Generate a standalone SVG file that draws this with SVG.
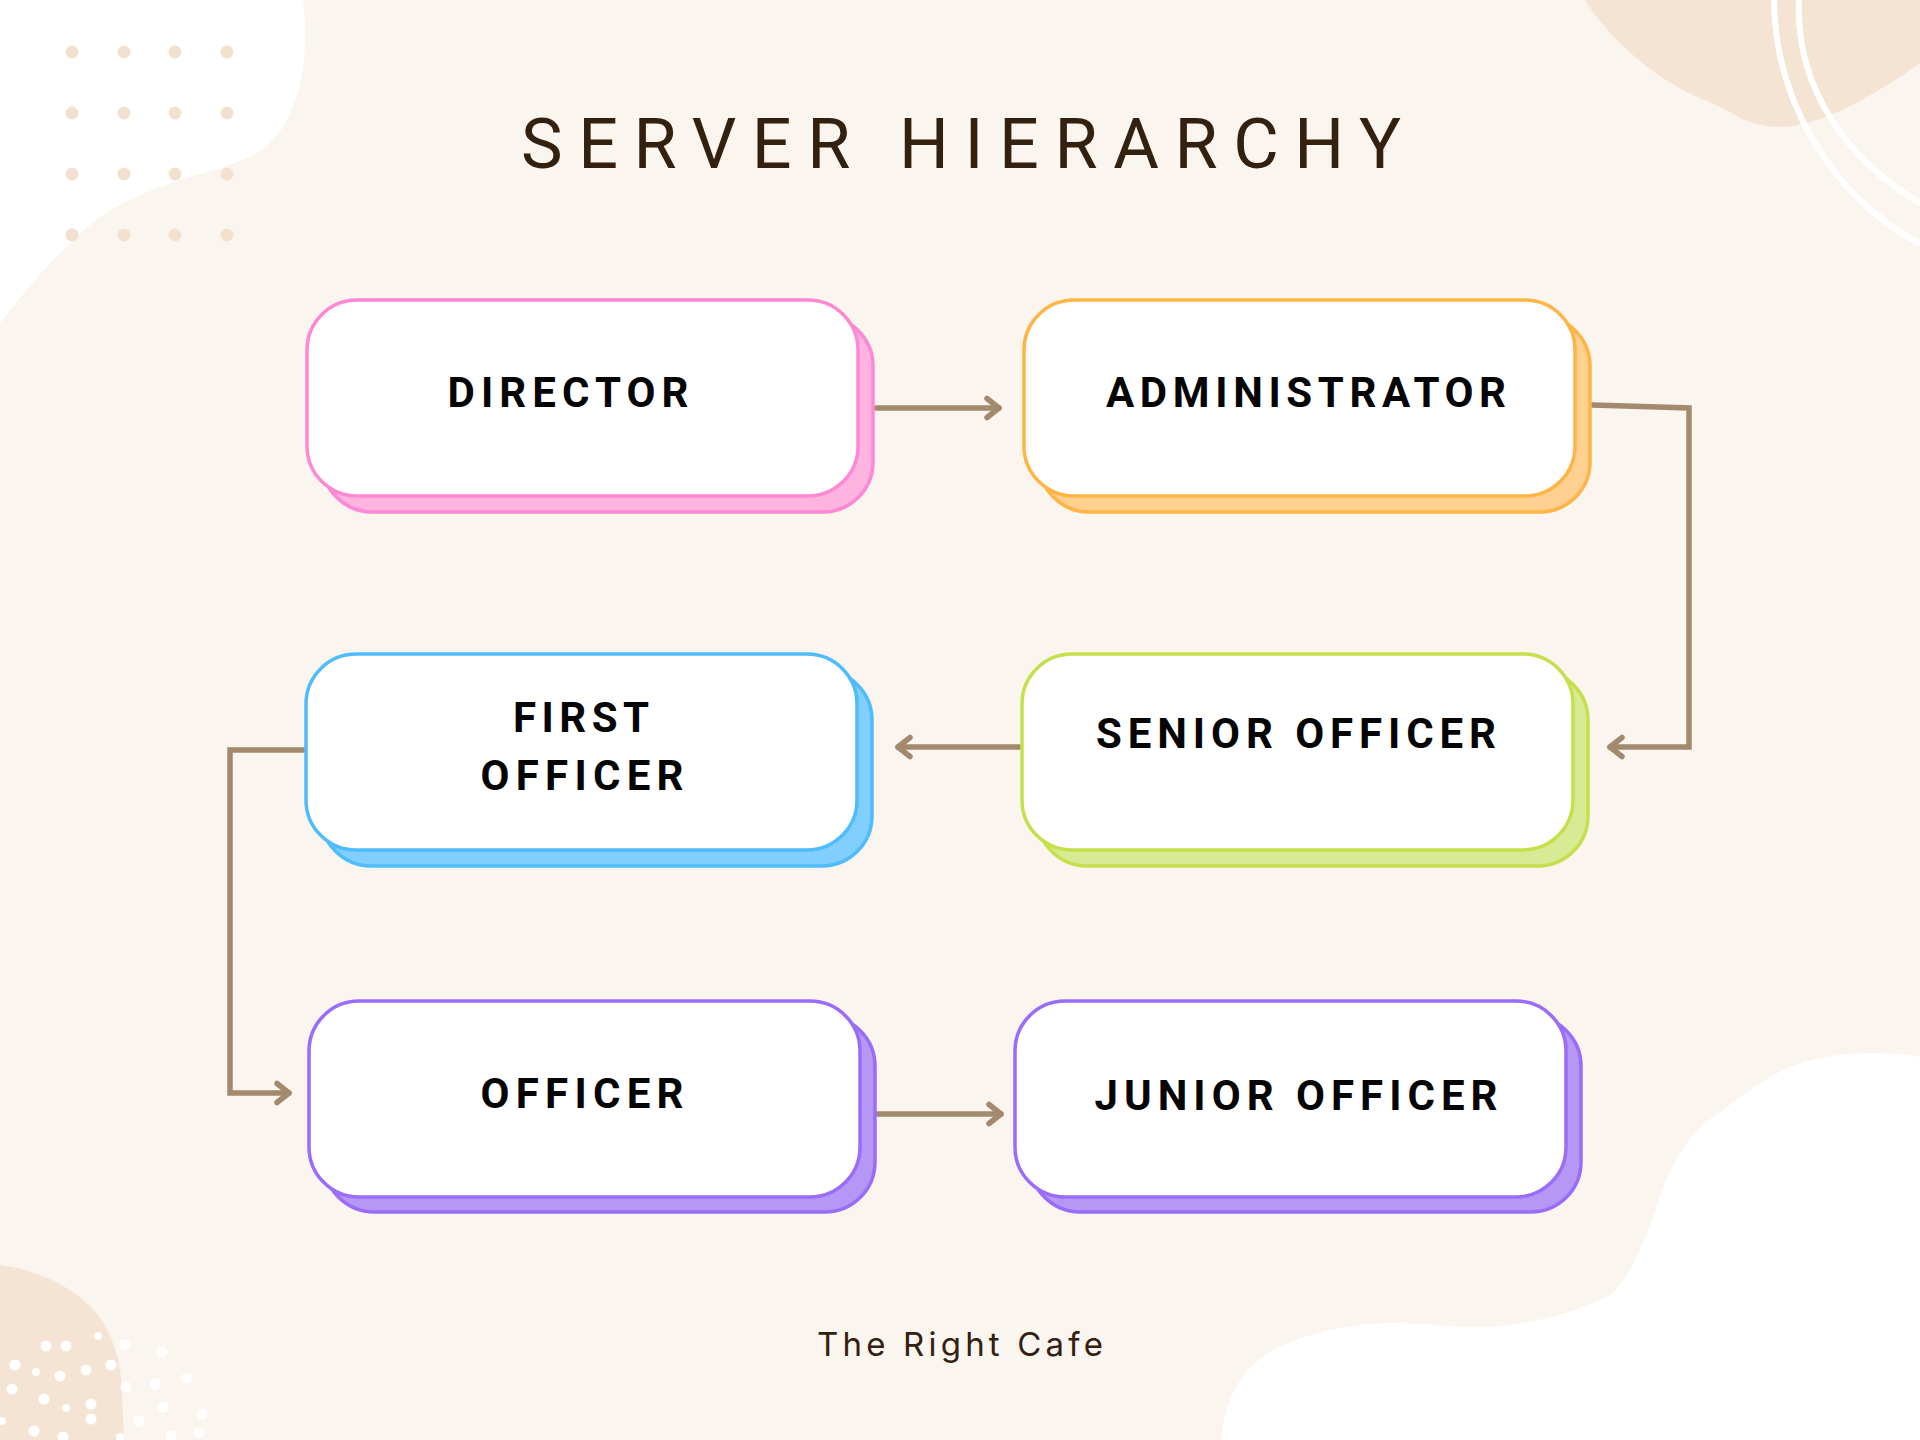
<svg xmlns="http://www.w3.org/2000/svg" width="1920" height="1440" viewBox="0 0 1920 1440">
  <style>
    .front { fill: #ffffff; stroke-width: 3.5; }
    .back { stroke-width: 3.5; }
    .label { font-family: Roboto, "Liberation Sans", sans-serif; font-weight: 700; font-size: 42px; fill: #050505; text-anchor: middle; }
    .conn { fill: none; stroke: #a38a6e; stroke-width: 5.5; stroke-linecap: round; stroke-linejoin: miter; }
    .dot { fill: #f3e1cf; }
    .wdot { fill: #ffffff; }
  </style>
  <defs>
    <marker id="arr" markerUnits="userSpaceOnUse" markerWidth="40" markerHeight="40" viewBox="-20 -20 40 40" refX="0" refY="0" orient="auto">
      <path d="M-12,-9.5 L0,0 L-12,9.5" fill="none" stroke="#a38a6e" stroke-width="5.5" stroke-linecap="round" stroke-linejoin="round"/>
    </marker>
  </defs>

  <!-- background -->
  <rect x="0" y="0" width="1920" height="1440" fill="#faf5ef"/>
  <path d="M0,0 H303 C308,40 306,90 283,127 C265,155 235,165 200,174 C160,185 125,200 100,217 C65,243 30,285 0,323 Z" fill="#ffffff"/>
  <g id="dots-tl">
    <circle class="dot" cx="72" cy="52" r="6.5"/><circle class="dot" cx="124" cy="52" r="6.5"/><circle class="dot" cx="175" cy="52" r="6.5"/><circle class="dot" cx="227" cy="52" r="6.5"/>
    <circle class="dot" cx="72" cy="113" r="6.5"/><circle class="dot" cx="124" cy="113" r="6.5"/><circle class="dot" cx="175" cy="113" r="6.5"/><circle class="dot" cx="227" cy="113" r="6.5"/>
    <circle class="dot" cx="72" cy="174" r="6.5"/><circle class="dot" cx="124" cy="174" r="6.5"/><circle class="dot" cx="175" cy="174" r="6.5"/><circle class="dot" cx="227" cy="174" r="6.5"/>
    <circle class="dot" cx="72" cy="235" r="6.5"/><circle class="dot" cx="124" cy="235" r="6.5"/><circle class="dot" cx="175" cy="235" r="6.5"/><circle class="dot" cx="227" cy="235" r="6.5"/>
  </g>
  <path d="M1585,0 C1600,25 1640,70 1693,95 L1727,110 C1740,120 1760,127 1780,127 C1820,127 1875,95 1920,63 V0 Z" fill="#f5e4d3"/>
  <path d="M1774,0 C1775,100 1830,195 1920,244" fill="none" stroke="#ffffff" stroke-width="6"/>
  <path d="M1799,0 C1795,90 1850,162 1920,203" fill="none" stroke="#ffffff" stroke-width="6"/>
  <path d="M0,1265 C40,1270 80,1290 100,1318 C118,1345 121,1370 122,1393 L124,1440 H0 Z" fill="#f5e4d3"/>
  <g id="dots-bl">
    <circle class="wdot" cx="98" cy="1336" r="4"/><circle class="wdot" cx="46" cy="1346" r="5.5"/><circle class="wdot" cx="66" cy="1346" r="5.5"/>
    <circle class="wdot" cx="125" cy="1345" r="5.5"/><circle class="wdot" cx="162" cy="1352" r="5.5"/><circle class="wdot" cx="15" cy="1365" r="5.5"/>
    <circle class="wdot" cx="36" cy="1372" r="4"/><circle class="wdot" cx="60" cy="1376" r="5.5"/><circle class="wdot" cx="86" cy="1370" r="5.5"/>
    <circle class="wdot" cx="111" cy="1365" r="5.5"/><circle class="wdot" cx="187" cy="1378" r="5.5"/><circle class="wdot" cx="12" cy="1389" r="5.5"/>
    <circle class="wdot" cx="126" cy="1387" r="5.5"/><circle class="wdot" cx="155" cy="1384" r="5.5"/><circle class="wdot" cx="44" cy="1399" r="5.5"/>
    <circle class="wdot" cx="66" cy="1408" r="4"/><circle class="wdot" cx="91" cy="1404" r="5.5"/><circle class="wdot" cx="163" cy="1407" r="5.5"/>
    <circle class="wdot" cx="202" cy="1414" r="5.5"/><circle class="wdot" cx="2" cy="1421" r="4"/><circle class="wdot" cx="91" cy="1419" r="5.5"/>
    <circle class="wdot" cx="139" cy="1421" r="5.5"/><circle class="wdot" cx="34" cy="1431" r="5.5"/><circle class="wdot" cx="63" cy="1437" r="5.5"/>
    <circle class="wdot" cx="120" cy="1437" r="4"/><circle class="wdot" cx="171" cy="1436" r="5.5"/><circle class="wdot" cx="199" cy="1433" r="5.5"/>
  </g>
  <path d="M1221,1440 C1225,1400 1240,1370 1270,1352 C1310,1330 1360,1322 1400,1323 C1440,1324 1470,1330 1500,1326 C1540,1322 1590,1308 1610,1295 C1630,1280 1645,1240 1659,1200 C1670,1165 1690,1130 1719,1113 C1750,1090 1780,1065 1820,1058 C1860,1050 1900,1053 1920,1057 V1440 Z" fill="#ffffff"/>

  <!-- title -->
  <text x="961" y="168" font-family="Roboto, 'Liberation Sans', sans-serif" font-size="70" font-weight="400" fill="#33200f" text-anchor="middle" textLength="880" lengthAdjust="spacing">SERVER HIERARCHY</text>

  <!-- connectors -->
  <g id="connectors">
    <path class="conn" d="M876,408 H999" marker-end="url(#arr)"/>
    <path class="conn" d="M1592,405 L1689,408 V747 H1610" marker-end="url(#arr)"/>
    <path class="conn" d="M1019,747 H898" marker-end="url(#arr)"/>
    <path class="conn" d="M304,750 H230 V1093 H289" marker-end="url(#arr)"/>
    <path class="conn" d="M877,1114 H1001" marker-end="url(#arr)"/>
  </g>

  <!-- nodes -->
  <g id="director">
    <rect class="back" x="322" y="316" width="551" height="196" rx="50" fill="#ffb3e0" stroke="#ff88d4"/>
    <rect class="front" x="307" y="300" width="551" height="196" rx="50" stroke="#ff88d4"/>
    <text class="label" x="568" y="407" textLength="241" lengthAdjust="spacing">DIRECTOR</text>
  </g>
  <g id="administrator">
    <rect class="back" x="1039" y="316" width="551" height="196" rx="50" fill="#ffd08f" stroke="#ffb545"/>
    <rect class="front" x="1024" y="300" width="551" height="196" rx="50" stroke="#ffb545"/>
    <text class="label" x="1306" y="407" textLength="400" lengthAdjust="spacing">ADMINISTRATOR</text>
  </g>
  <g id="senior-officer">
    <rect class="back" x="1037" y="670" width="551" height="196" rx="50" fill="#d8ea94" stroke="#c5e04a"/>
    <rect class="front" x="1022" y="654" width="551" height="196" rx="50" stroke="#c5e04a"/>
    <text class="label" x="1296" y="748" textLength="400" lengthAdjust="spacing">SENIOR OFFICER</text>
  </g>
  <g id="first-officer">
    <rect class="back" x="321" y="670" width="551" height="196" rx="50" fill="#80cfff" stroke="#4fbcfb"/>
    <rect class="front" x="306" y="654" width="551" height="196" rx="50" stroke="#4fbcfb"/>
    <text class="label" x="581" y="732" textLength="136" lengthAdjust="spacing">FIRST</text>
    <text class="label" x="582" y="790" textLength="203" lengthAdjust="spacing">OFFICER</text>
  </g>
  <g id="officer">
    <rect class="back" x="324" y="1016" width="551" height="196" rx="50" fill="#b597f5" stroke="#9b6cf9"/>
    <rect class="front" x="309" y="1001" width="551" height="196" rx="50" stroke="#9b6cf9"/>
    <text class="label" x="582" y="1108" textLength="203" lengthAdjust="spacing">OFFICER</text>
  </g>
  <g id="junior-officer">
    <rect class="back" x="1030" y="1016" width="551" height="196" rx="50" fill="#b597f5" stroke="#9b6cf9"/>
    <rect class="front" x="1015" y="1001" width="551" height="196" rx="50" stroke="#9b6cf9"/>
    <text class="label" x="1296" y="1110" textLength="403" lengthAdjust="spacing">JUNIOR OFFICER</text>
  </g>

  <!-- footer -->
  <text x="960" y="1356" font-family="Inter, Roboto, sans-serif" font-size="33" font-weight="400" fill="#33200f" text-anchor="middle" textLength="286" lengthAdjust="spacing">The Right Cafe</text>
</svg>
